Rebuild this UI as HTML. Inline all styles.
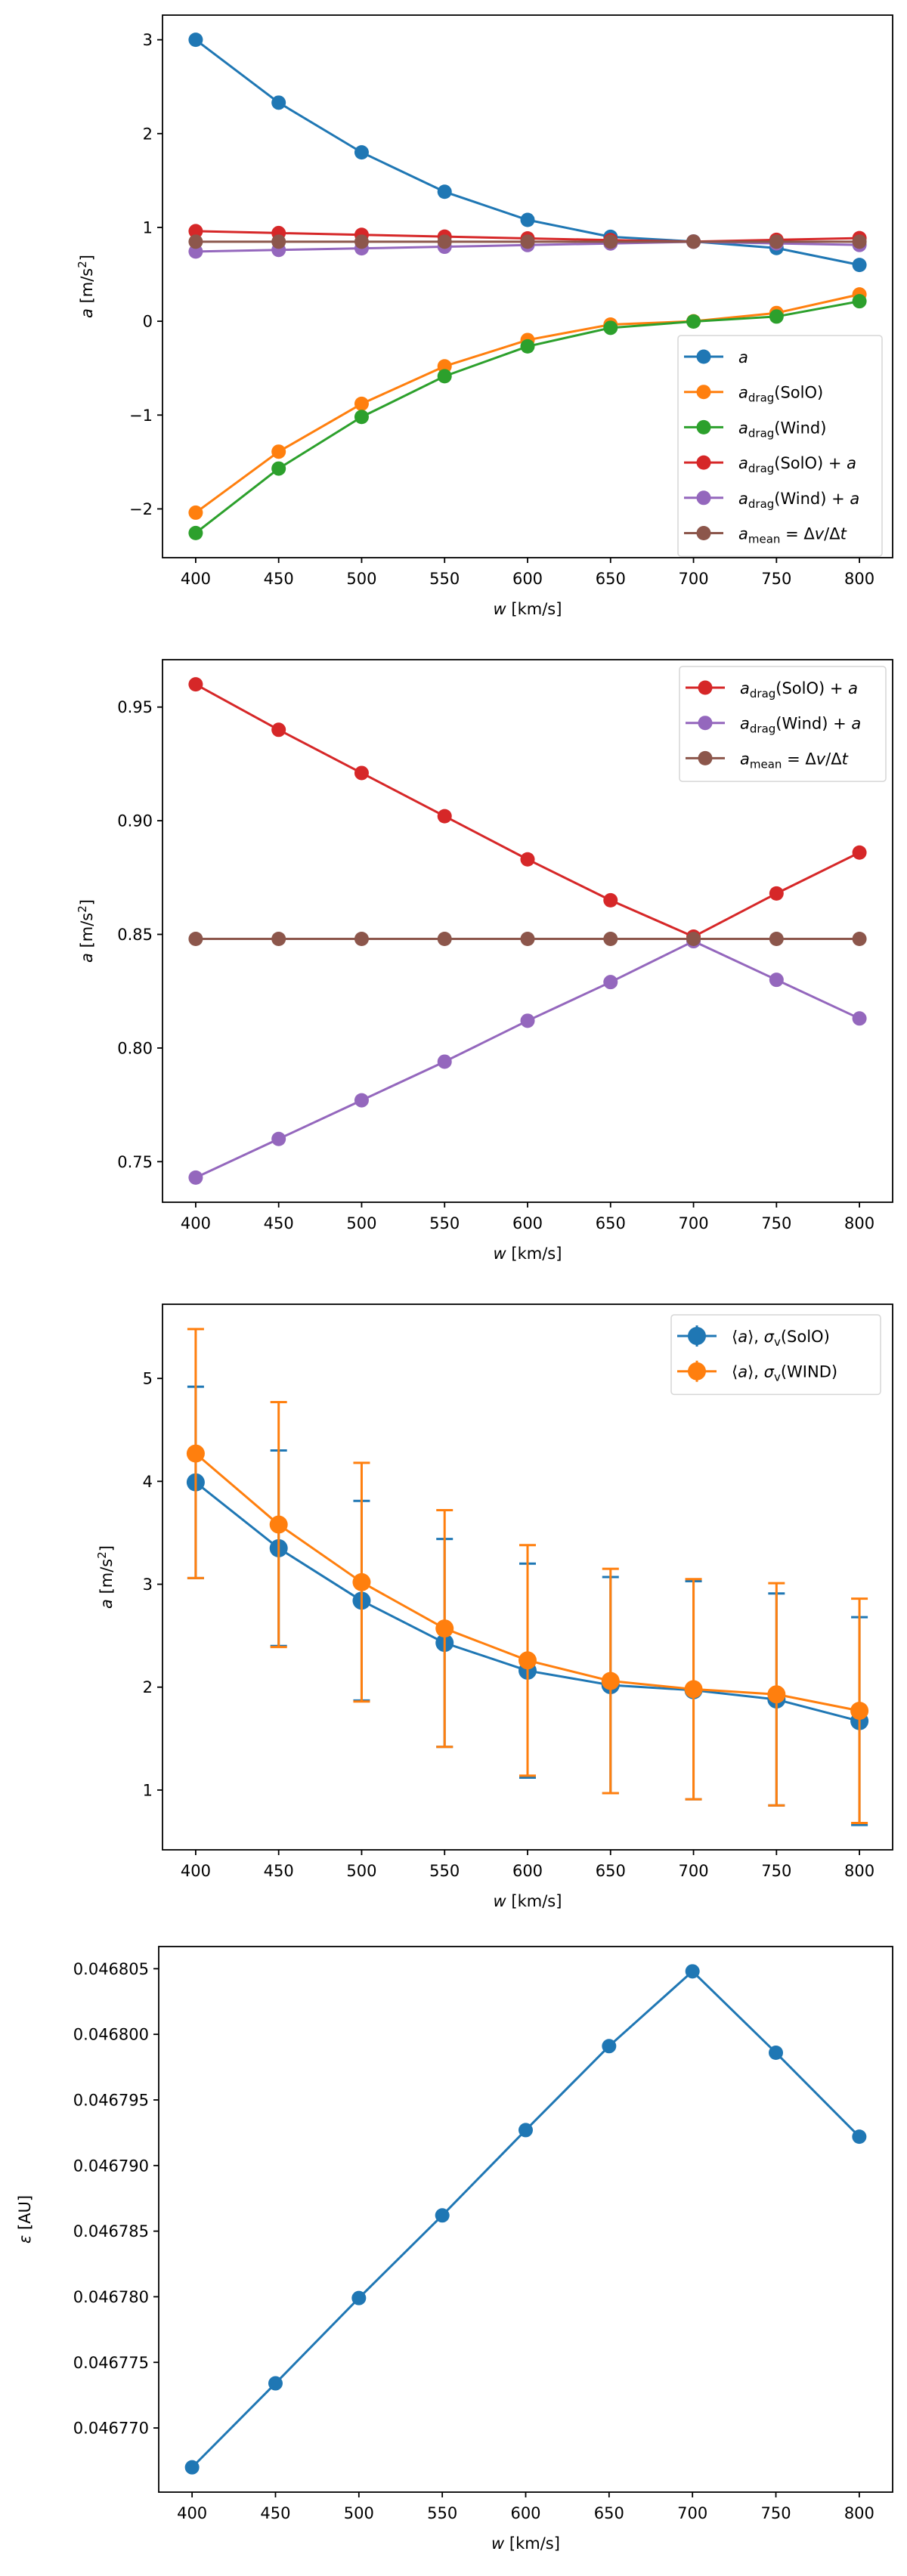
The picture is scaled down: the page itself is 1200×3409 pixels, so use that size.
<!DOCTYPE html>
<html><head><meta charset="utf-8">
<style>
html,body{margin:0;padding:0;background:#fff;}
svg{display:block;font-family:"DejaVu Sans","Liberation Sans",sans-serif;}
</style></head>
<body>
<svg id="fig" width="1200" height="3409" viewBox="0 0 1200 3409" xmlns="http://www.w3.org/2000/svg"></svg>
<script>
// ---------- data ----------
const wValues = [400,450,500,550,600,650,700,750,800];
const xTicks = [400,450,500,550,600,650,700,750,800];
// panel 1
const aVals = [3.00,2.33,1.80,1.38,1.08,0.90,0.85,0.78,0.60];
const dragSolO = [-2.04,-1.39,-0.88,-0.48,-0.20,-0.035,0.00,0.088,0.286];
const dragWind = [-2.257,-1.57,-1.02,-0.586,-0.268,-0.07,-0.003,0.05,0.213];
const dragSolOPlusA = [0.960,0.940,0.921,0.902,0.883,0.865,0.849,0.868,0.886];
const dragWindPlusA = [0.743,0.760,0.777,0.794,0.812,0.829,0.847,0.830,0.813];
const aMean = [0.848,0.848,0.848,0.848,0.848,0.848,0.848,0.848,0.848];
const p1Ticks = [-2,-1,0,1,2,3];
const p2Ticks = [0.75,0.80,0.85,0.90,0.95];
// panel 3
const meanSolO = [3.99,3.35,2.84,2.43,2.16,2.02,1.97,1.88,1.67];
const sigmaSolO = [0.93,0.95,0.97,1.01,1.04,1.05,1.06,1.03,1.01];
const meanWind = [4.27,3.58,3.02,2.57,2.26,2.06,1.98,1.93,1.77];
const sigmaWind = [1.21,1.19,1.16,1.15,1.12,1.09,1.07,1.08,1.09];
const p3Ticks = [1,2,3,4,5];
// panel 4
const epsVals = [0.046767,0.0467734,0.0467799,0.0467862,0.0467927,0.0467991,0.0468048,0.0467986,0.0467922];
const p4Ticks = [0.046770,0.046775,0.046780,0.046785,0.046790,0.046795,0.046800,0.046805];

const C = {blue:'#1f77b4',orange:'#ff7f0e',green:'#2ca02c',red:'#d62728',purple:'#9467bd',brown:'#8c564b'};
const NS='http://www.w3.org/2000/svg';
const fig=document.getElementById('fig');
function mk(tag,attrs,parent){const e=document.createElementNS(NS,tag);for(const k in attrs)e.setAttribute(k,attrs[k]);(parent||fig).appendChild(e);return e;}

function range(vals){let mn=Math.min(...vals),mx=Math.max(...vals);const m=(mx-mn)*0.05;return [mn-m,mx+m];}

function makeAxes(name,box,ydom,yticks,fmt){
  const g=mk('g',{});
  
  
  const X=v=>box.l+(v-380)/(820-380)*(box.r-box.l);
  const Y=v=>box.b-(v-ydom[0])/(ydom[1]-ydom[0])*(box.b-box.t);
  return {g,X,Y,box,yticks,fmt};
}
function drawFrame(ax,ylabelParts,ylabelX){
  const {g,X,Y,box}=ax;
  const xa=mk('g',{},g);
  
  
  xTicks.forEach(t=>{
    mk('line',{x1:X(t),x2:X(t),y1:box.b,y2:box.b+7,stroke:'#000','stroke-width':1.8},xa);
    const tx=mk('text',{x:X(t),y:box.b+35,'font-size':21,'text-anchor':'middle',fill:'#000'},xa);
    
    
    tx.textContent=t;
  });
  const xl=mk('text',{x:(box.l+box.r)/2,y:box.b+75,'font-size':21,'text-anchor':'middle',fill:'#000'},xa);
  
  
  const wi=mk('tspan',{'font-style':'italic'},xl);wi.textContent='w';
  const wr=mk('tspan',{},xl);wr.textContent=' [km/s]';
  const ya=mk('g',{},g);
  
  
  ax.yticks.forEach(t=>{
    const y=Y(t);
    mk('line',{x1:box.l-7,x2:box.l,y1:y,y2:y,stroke:'#000','stroke-width':1.8},ya);
    const tx=mk('text',{x:box.l-13,y:y+7.5,'font-size':21,'text-anchor':'end',fill:'#000'},ya);
    
    
    tx.textContent=ax.fmt(t);
  });
  const cy=(box.t+box.b)/2;
  const yl=mk('text',{x:ylabelX,y:cy,'font-size':21,'text-anchor':'middle',fill:'#000',transform:`rotate(-90 ${ylabelX} ${cy})`},ya);
  
  
  ylabelParts.forEach(p=>{const s=mk('tspan',p[1]||{},yl);s.textContent=p[0];});
}
function drawSpines(ax){
  const {g,box}=ax;
  const r=mk('rect',{x:box.l,y:box.t,width:box.r-box.l,height:box.b-box.t,fill:'none',stroke:'#000','stroke-width':1.8},g);
  
  
}
function series(ax,vals,color,name,rad){
  const {g,X,Y}=ax;
  const sg=mk('g',{},g);
  
  
  const pts=vals.map((v,i)=>X(wValues[i])+','+Y(v)).join(' ');
  mk('polyline',{points:pts,fill:'none',stroke:color,'stroke-width':3,'stroke-linejoin':'round'},sg);
  vals.forEach((v,i)=>{
    const c=mk('circle',{cx:X(wValues[i]),cy:Y(v),r:rad||9.5,fill:color},sg);
    
    
  });
}
function errSeries(ax,vals,sig,color,name){
  const {g,X,Y}=ax;
  const sg=mk('g',{},g);
  
  
  vals.forEach((v,i)=>{
    const x=X(wValues[i]);
    const e=mk('g',{},sg);
    
    
    mk('line',{x1:x,x2:x,y1:Y(v-sig[i]),y2:Y(v+sig[i]),stroke:color,'stroke-width':3},e);
    mk('line',{x1:x-11,x2:x+11,y1:Y(v-sig[i]),y2:Y(v-sig[i]),stroke:color,'stroke-width':3},e);
    mk('line',{x1:x-11,x2:x+11,y1:Y(v+sig[i]),y2:Y(v+sig[i]),stroke:color,'stroke-width':3},e);
  });
  series(ax,vals,color,name+'-line',12);
}
// label parts: [text, kind] kind: 'i' italic, 's' subscript, '' normal
function legend(ax,x,y,w,entries,big){
  const {g}=ax;
  const lg=mk('g',{},g);
  
  
  const h=entries.length*46.7+12;
  mk('rect',{x:x,y:y,width:w,height:h,rx:4,fill:'#fff','fill-opacity':0.85,stroke:'#d6d6d6','stroke-width':1.5},lg);
  entries.forEach((en,i)=>{
    const cy=y+28+i*46.7;
    const eg=mk('g',{},lg);
    
    
    mk('line',{x1:x+8,x2:x+60,y1:cy,y2:cy,stroke:en.color,'stroke-width':3},eg);
    if(big){mk('line',{x1:x+34,x2:x+34,y1:cy-14,y2:cy+14,stroke:en.color,'stroke-width':3},eg);}
    mk('circle',{cx:x+34,cy:cy,r:big?12:9.5,fill:en.color},eg);
    const t=mk('text',{x:x+80,y:cy+8,'font-size':21,fill:'#000'},eg);
    en.parts.forEach(p=>{
      const a={};
      if(p[1]==='i')a['font-style']='italic';
      if(p[1]==='s'){a['font-size']=15;a['dy']=5;}
      if(p[1]==='u'){a['dy']=-5;}
      const s=mk('tspan',a,t);s.textContent=p[0];
    });
  });
}
const LA=[['a','i']];
const LSol=[['a','i'],['drag','s'],['(SolO)','u']];
const LWind=[['a','i'],['drag','s'],['(Wind)','u']];
const LSolA=[['a','i'],['drag','s'],['(SolO) + ','u'],['a','i']];
const LWindA=[['a','i'],['drag','s'],['(Wind) + ','u'],['a','i']];
const LMean=[['a','i'],['mean','s'],[' = Δ','u'],['v','i'],['/Δ',''],['t','i']];
const yA=[['a',{'font-style':'italic'}],[' [m/s',{}],['2',{'font-size':15,dy:-8}],[']',{dy:8}]];

// ---------- panel 1 ----------
{
  const all=[...aVals,...dragSolO,...dragWind,...dragSolOPlusA,...dragWindPlusA,...aMean];
  const ax=makeAxes('chart-accelerations',{l:215,r:1181,t:20,b:738},range(all),p1Ticks,v=>v<0?'−'+(-v):String(v));
  drawFrame(ax,yA,122);
  series(ax,aVals,C.blue,'series-a');
  series(ax,dragSolO,C.orange,'series-adrag-solo');
  series(ax,dragWind,C.green,'series-adrag-wind');
  series(ax,dragSolOPlusA,C.red,'series-adrag-solo-plus-a');
  series(ax,dragWindPlusA,C.purple,'series-adrag-wind-plus-a');
  series(ax,aMean,C.brown,'series-amean');
  drawSpines(ax);
  legend(ax,897,444,270,[{color:C.blue,parts:LA},{color:C.orange,parts:LSol},{color:C.green,parts:LWind},{color:C.red,parts:LSolA},{color:C.purple,parts:LWindA},{color:C.brown,parts:LMean}]);
}
// ---------- panel 2 ----------
{
  const all=[...dragSolOPlusA,...dragWindPlusA,...aMean];
  const ax=makeAxes('chart-sum-accelerations',{l:215,r:1181,t:873,b:1591},range(all),p2Ticks,v=>v.toFixed(2));
  drawFrame(ax,yA,122);
  series(ax,dragSolOPlusA,C.red,'series-adrag-solo-plus-a');
  series(ax,dragWindPlusA,C.purple,'series-adrag-wind-plus-a');
  series(ax,aMean,C.brown,'series-amean');
  drawSpines(ax);
  legend(ax,899,882,273,[{color:C.red,parts:LSolA},{color:C.purple,parts:LWindA},{color:C.brown,parts:LMean}]);
}
// ---------- panel 3 ----------
{
  const all=[];meanSolO.forEach((v,i)=>{all.push(v+sigmaSolO[i],v-sigmaSolO[i]);});meanWind.forEach((v,i)=>{all.push(v+sigmaWind[i],v-sigmaWind[i]);});
  const ax=makeAxes('chart-mean-acceleration',{l:215,r:1181,t:1726,b:2448},range(all),p3Ticks,v=>String(v));
  drawFrame(ax,yA,148);
  errSeries(ax,meanSolO,sigmaSolO,C.blue,'series-solo');
  errSeries(ax,meanWind,sigmaWind,C.orange,'series-wind');
  drawSpines(ax);
  const P1=[['⟨',''],['a','i'],['⟩, ',''],['σ','i'],['v','s'],['(SolO)','u']];
  const P2=[['⟨',''],['a','i'],['⟩, ',''],['σ','i'],['v','s'],['(WIND)','u']];
  legend(ax,888,1740,277,[{color:C.blue,parts:P1},{color:C.orange,parts:P2}],true);
}
// ---------- panel 4 ----------
{
  const ax=makeAxes('chart-epsilon',{l:210,r:1181,t:2576,b:3298},range(epsVals),p4Ticks,v=>v.toFixed(6));
  drawFrame(ax,[['ε',{'font-style':'italic'}],[' [AU]',{}]],40);
  series(ax,epsVals,C.blue,'series-epsilon');
  drawSpines(ax);
}
</script>
</body></html>
